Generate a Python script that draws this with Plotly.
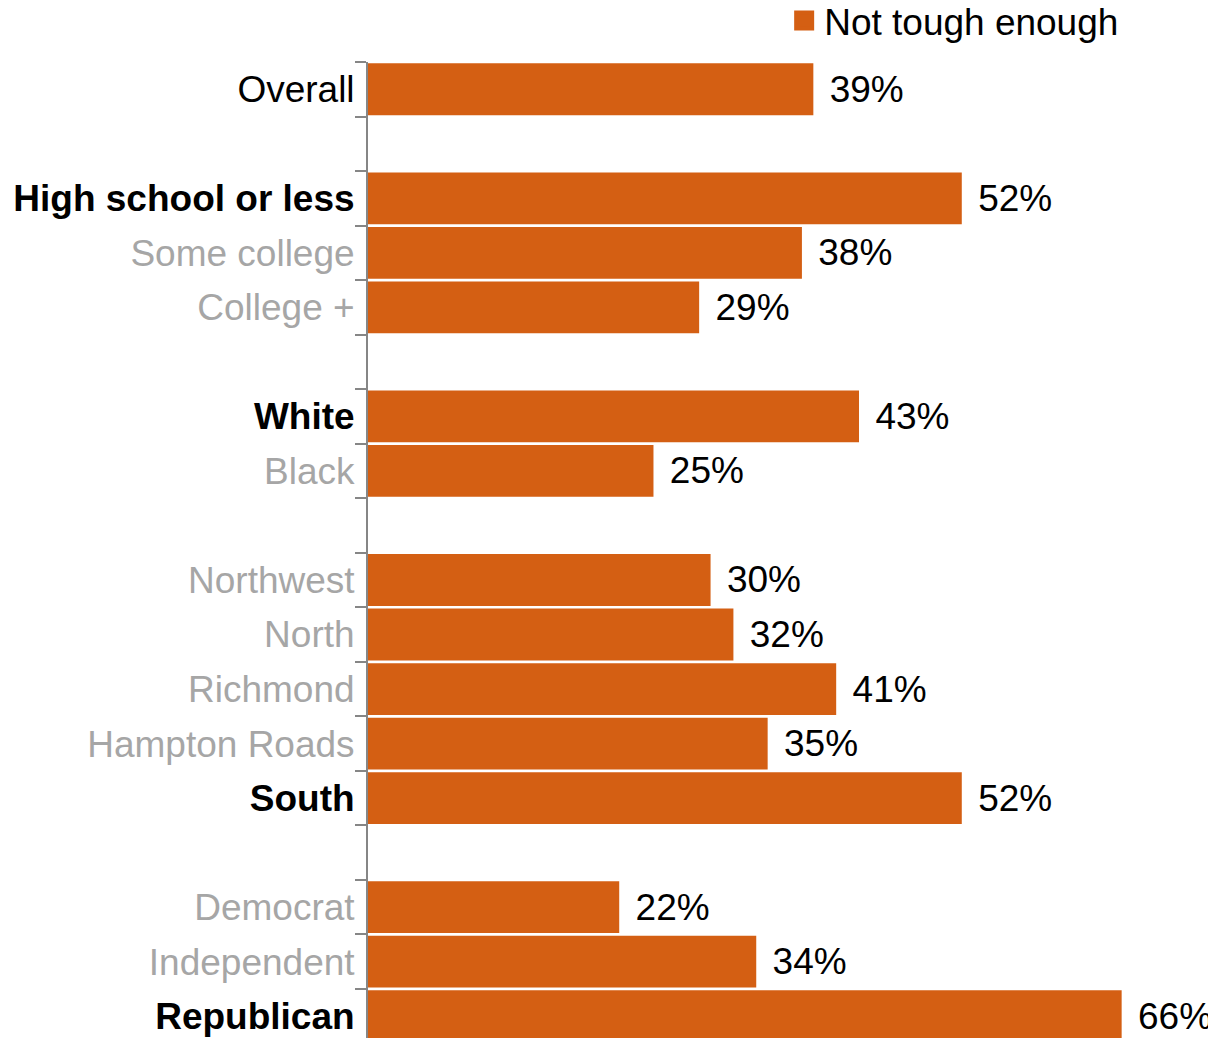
import plotly.graph_objects as go

# ---- data ----
categories = ["Overall", None,
              "High school or less", "Some college", "College +", None,
              "White", "Black", None,
              "Northwest", "North", "Richmond", "Hampton Roads", "South", None,
              "Democrat", "Independent", "Republican"]
values = [39, None,
          52, 38, 29, None,
          43, 25, None,
          30, 32, 41, 35, 52, None,
          22, 34, 66]
highlighted = {"Overall", "High school or less", "White", "South", "Republican"}
bold_labels = {"High school or less", "White", "South", "Republican"}
series_name = "Not tough enough"

BAR = "#D45F13"
GREY = "#A6A6A6"
FONT = "Liberation Sans, Arial, sans-serif"
FS = 37

# build category keys (gaps get unique invisible names)
ykeys = []
gap_n = 0
for c in categories:
    if c is None:
        gap_n += 1
        ykeys.append(" " * gap_n)
    elif c in bold_labels:
        ykeys.append(f"<b>{c}</b>")
    elif c in highlighted:
        ykeys.append(c)
    else:
        ykeys.append(f"<span style='color:{GREY}'>{c}</span>")

texts = [None if v is None else f"\u00a0\u200a{v}%" for v in values]

fig = go.Figure()
fig.add_trace(go.Bar(
    x=values, y=ykeys, orientation="h",
    marker=dict(color=BAR, line=dict(width=0)),
    text=texts, textposition="outside", textfont=dict(size=FS, color="black", family=FONT),
    constraintext="none", cliponaxis=False, showlegend=False, hoverinfo="skip",
))
fig.add_trace(go.Scatter(
    x=[None], y=[None], mode="markers", name=series_name,
    marker=dict(symbol="square", size=20, color=BAR, line=dict(width=4, color=BAR)),
    showlegend=True,
))

# page body has an 8px default margin: figure is 8px smaller and offsets reduced by 8
fig.update_layout(
    width=1208, height=1030,
    margin=dict(l=360, r=3, t=54, b=0, autoexpand=False),
    paper_bgcolor="white", plot_bgcolor="white",
    font=dict(family=FONT, size=FS, color="black"),
    bargap=0.05,
    showlegend=True,
    legend=dict(x=0.4925, xanchor="left", xref="paper",
                y=1.042, yanchor="middle", yref="paper",
                font=dict(size=FS, color="black"), itemsizing="trace",
                bgcolor="rgba(0,0,0,0)"),
    xaxis=dict(range=[0, 74], visible=False, showgrid=False, zeroline=False),
    yaxis=dict(type="category", categoryorder="array", categoryarray=ykeys,
               range=[17.4, -0.5], showline=True, linecolor="#868686", linewidth=2,
               ticks="outside", ticklen=11, tickwidth=2, tickcolor="#868686",
               tickson="boundaries", showgrid=False, zeroline=False,
               automargin=False, ticklabelstandoff=4,
               tickfont=dict(size=FS, color="black", family=FONT)),
)

fig.write_html("out.html")
